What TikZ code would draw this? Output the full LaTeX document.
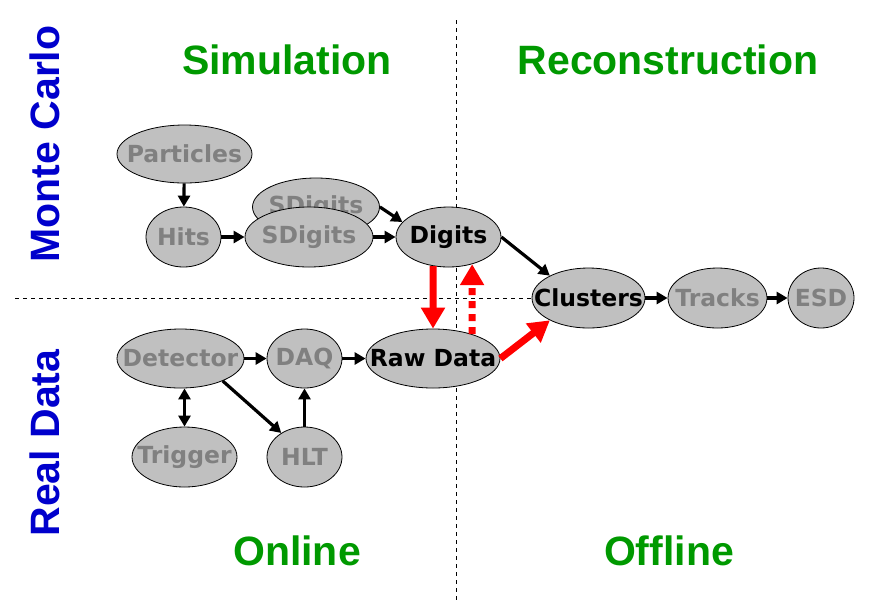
\documentclass[tikz,border=0pt]{standalone}
\usepackage{fontspec}
\setmainfont{Liberation Sans}
\newfontfamily\nodefont{DejaVu Sans}
\usetikzlibrary{arrows.meta,positioning,shapes.geometric}
\definecolor{silver}{HTML}{C0C0C0}
\definecolor{dimtext}{HTML}{808080}
\definecolor{simgreen}{HTML}{009900}
\definecolor{srcblue}{HTML}{0000CC}
\definecolor{flowred}{HTML}{FF0000}
% label text takes no width, so the ellipse keeps its given size
\newcommand{\stagelabel}[1]{\makebox[0pt]{#1}}
\tikzset{
  stage/.style={
    ellipse,
    draw=black,
    fill=silver,
    line width=0.8pt,
    inner sep=0pt,
    text=dimtext,
    font=\nodefont\fontsize{23.5}{26}\selectfont\bfseries
  },
  keystage/.style={stage,text=black},
  heading/.style={font=\fontsize{41}{48}\selectfont\bfseries,text=simgreen},
  sidehead/.style={font=\fontsize{41}{48}\selectfont\bfseries,text=srcblue,rotate=90},
  divider/.style={draw=black,line width=0.9pt,dash pattern=on 4pt off 4pt},
  flow/.style={-{Triangle[length=11pt,width=12pt]},line width=3.2pt,draw=black},
  bothflow/.style={{Triangle[length=11pt,width=12pt]}-{Triangle[length=11pt,width=12pt]},line width=3.2pt,draw=black},
  convflow/.style={-{Triangle[length=21pt,width=23pt]},line width=7pt,draw=flowred},
  backflow/.style={convflow,dash pattern=on 7pt off 6pt}
}

\begin{document}
\begin{tikzpicture}[x=1pt,y=-1pt]
  \useasboundingbox (0,0) rectangle (872,614);

  % quadrant dividers
  \coordinate (vtop) at (456,20);
  \coordinate (vbot) at (456,602);
  \coordinate (hleft) at (15,298);
  \draw[divider] (vtop) -- (vbot);

  % titles
  \node[heading] (simulation) at (287,60) {Simulation};
  \node[heading] (reconstruction) at (668,60) {Reconstruction};
  \node[heading] (online) at (297,551) {Online};
  \node[heading] (offline) at (669,551) {Offline};
  \node[sidehead] (montecarlo) at (45,144) {Monte Carlo};
  \node[sidehead] (realdata) at (45,443) {Real Data};

  % simulation chain
  \node[stage,minimum width=135pt,minimum height=58pt] (particles) at (184.5,154) {\stagelabel{Particles}};
  \node[stage,minimum width=75pt,minimum height=60pt] (hits) at (183.5,237) {\stagelabel{Hits}};
  \node[stage,minimum width=127pt,minimum height=58pt] (sdigitsb) at (316,207) {\stagelabel{SDigits}};
  \node[stage,minimum width=128pt,minimum height=60pt] (sdigits) at (309,237) {\stagelabel{SDigits}};
  \node[keystage,minimum width=105pt,minimum height=60pt] (digits) at (448.5,237) {\stagelabel{Digits}};

  % real data chain
  \node[stage,minimum width=127pt,minimum height=59pt] (detector) at (180.5,358.5) {\stagelabel{Detector}};
  \node[stage,minimum width=75pt,minimum height=59pt] (daq) at (304.5,358.5) {\stagelabel{DAQ}};
  \node[keystage,minimum width=134pt,minimum height=59pt] (rawdata) at (433,358.5) {\stagelabel{Raw Data}};
  \node[stage,minimum width=105pt,minimum height=60pt] (trigger) at (184.5,457) {\stagelabel{Trigger}};
  \node[stage,minimum width=75pt,minimum height=60pt] (hlt) at (304.5,457) {\stagelabel{HLT}};

  % reconstruction chain
  \node[keystage,minimum width=113pt,minimum height=60pt] (clusters) at (588.5,298) {\stagelabel{Clusters}};
  \node[stage,minimum width=99pt,minimum height=60pt] (tracks) at (717.5,298) {\stagelabel{Tracks}};
  \node[stage,minimum width=66pt,minimum height=60pt] (esd) at (821,298) {\stagelabel{ESD}};

  \draw[divider] (hleft) -- (clusters.west);

  \draw[flow] (particles) -- (hits);
  \draw[flow] (hits) -- (sdigits);
  \draw[flow] (sdigits) -- (digits);
  \draw[flow] (sdigitsb.east) -- (digits.162);
  \draw[flow] (digits.east) -- (clusters.150);
  \draw[flow] (clusters) -- (tracks);
  \draw[flow] (tracks) -- (esd);

  \draw[flow] (detector) -- (daq);
  \draw[flow] (daq) -- (rawdata);
  \draw[bothflow] (detector.south -| trigger.north) -- (trigger.north);
  \draw[flow] (detector.-28) -- (hlt.134);
  \draw[flow] (hlt) -- (daq);

  \draw[convflow] (digits.-118) -- (rawdata.north);
  \draw[backflow] (rawdata.32) -- (digits.-49);
  \draw[convflow] (rawdata.east) -- (clusters.210);
\end{tikzpicture}
\end{document}
